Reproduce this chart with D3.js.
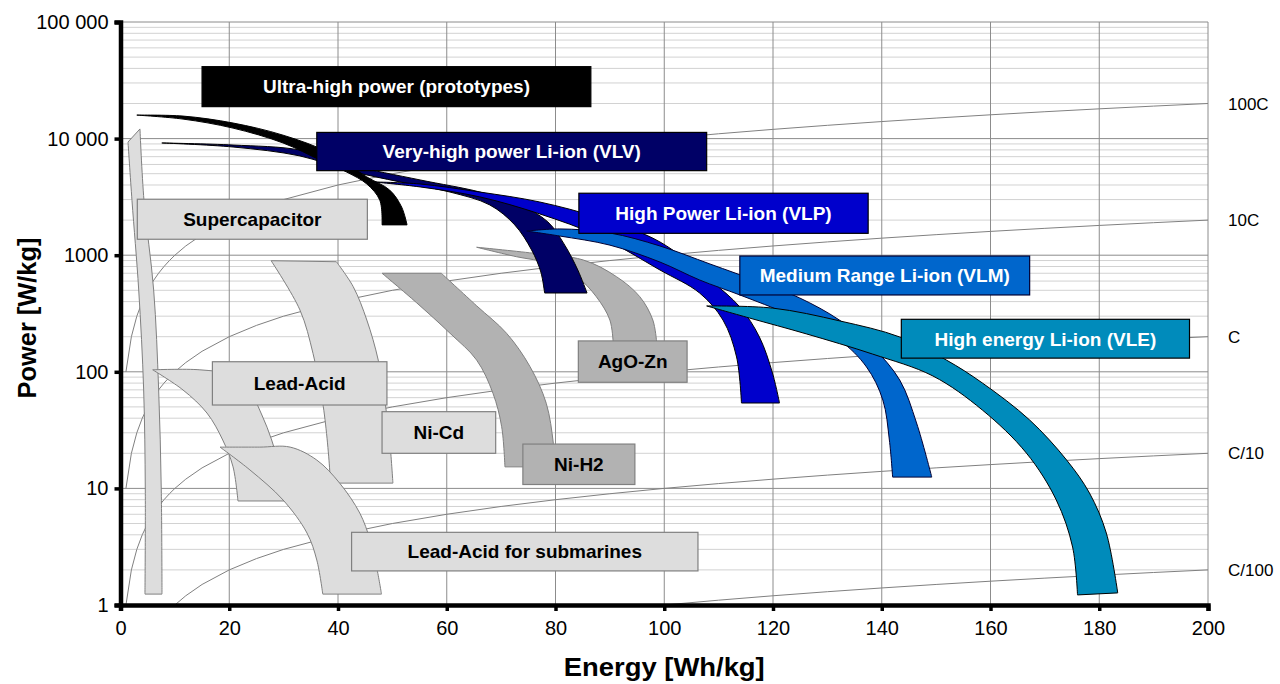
<!DOCTYPE html>
<html><head><meta charset="utf-8">
<script src="https://cdn.jsdelivr.net/npm/d3@7"></script>
<style>
body{margin:0;background:#fff;}
svg{display:block;font-family:"Liberation Sans",Arial,sans-serif;}
</style>
</head><body>
<svg id="chart" width="1280" height="684"></svg>
<script>
// ---------------- DATA ----------------
const energyTicks = [0,20,40,60,80,100,120,140,160,180,200];
const powerTicks = [1,10,100,1000,10000,100000];
const powerTickLabels = ["1","10","100","1000","10 000","100 000"];

// discharge-rate reference lines (Power = rate x Energy)
const cRates = [100,10,1,0.1,0.01];
const cRateLabels = ["100C","10C","C","C/10","C/100"];
const rateEnergies = [1,2,3,4,5,6,7,8,9,10,12,15,20,25,30,40,50,60,70,80,90,100,110,120,130,140,150,160,170,180,190,200];

// technology regions: [energy Wh/kg, power W/kg] along two edges
const ultraUpper = [[3.0,15900],[11.5,15600],[20.7,13600],[29.9,10700],[38.5,7530],[45.3,4690],[49.5,3620],[51.7,2590],[52.7,1820]];
const ultraLower = [[3.0,15900],[11.5,14700],[20.7,12300],[29.9,9170],[36.7,6550],[41.6,5160],[45.3,4080],[47.7,2950],[48.1,1820]];

const vlvUpper = [[7.6,9170],[20.7,8810],[33.0,7980],[42.2,5940],[55.1,4420],[66.1,3480],[73.4,2700],[78.6,1930],[81.7,1220],[84.1,747],[85.8,474]];
const vlvLower = [[7.6,9170],[20.7,8470],[33.0,7100],[42.2,5280],[51.4,4250],[60.6,3480],[67.9,2700],[72.5,1820],[75.6,1110],[77.3,718],[78.0,474]];

const vlpUpper = [[46.4,4250],[55.1,4080],[66.1,3480],[77.1,2860],[88.1,2080],[99.2,1300],[108.4,613],[113.9,360],[117.5,199],[119.9,97.7],[121.2,54.0]];
const vlpLower = [[46.4,4250],[55.1,3850],[66.1,3160],[77.1,2260],[88.1,1450],[99.2,747],[106.5,474],[110.8,278],[113.3,134],[114.2,54.0]];

const vlmUpper = [[74.7,1610],[80.8,1680],[90.0,1550],[99.2,1200],[108.4,841],[117.5,589],[124.9,430],[132.2,278],[138.3,163],[143.3,85.1],[146.4,36.4],[149.2,12.5]];
const vlmLower = [[74.7,1610],[80.8,1460],[90.0,1220],[99.2,874],[106.5,613],[113.9,456],[123.1,307],[132.2,187],[137.2,110],[140.2,57.3],[141.4,26.0],[142.0,12.5]];

const vleUpper = [[107.8,367],[119.9,352],[132.3,273],[143.3,199],[151.9,126],[158.5,80.2],[167.2,38.6],[174.0,17.5],[178.2,9.13],[181.3,4.14],[183.4,1.27]];
const vleLower = [[107.8,367],[115.7,289],[126.2,211],[138.3,142],[149.4,92.1],[158.5,47.0],[166.6,20.1],[172.1,7.95],[175.1,3.14],[176.0,1.22]];

const superLeft = [[1.38,9350],[2.11,2950],[3.35,503],[4.26,69.8],[4.56,9.69],[4.50,1.24]];
const superRight = [[3.58,12100],[4.32,2950],[6.10,503],[7.02,69.8],[7.50,9.69],[7.63,1.24]];

const leadUpper = [[5.92,104],[14.6,104],[20.1,93.9],[23.8,67.1],[26.0,42.6],[27.8,26.0],[29.3,14.4],[30.2,7.80]];
const leadLower = [[5.92,104],[11.5,69.8],[15.9,44.3],[18.8,26.0],[20.7,15.3],[21.6,7.80]];

const subUpper = [[18.3,22.6],[25.6,22.6],[31.2,22.6],[36.1,17.5],[40.3,11.1],[44.0,6.15],[45.9,3.61],[47.2,2.00],[48.0,1.24]];
const subLower = [[18.3,22.6],[23.8,14.4],[29.9,7.95],[34.3,4.14],[36.1,2.43],[37.2,1.24]];

const nicdLeft = [[27.7,897],[33.0,339],[35.4,144],[37.3,50.2],[38.5,13.6],[38.5,11.1]];
const nicdRight = [[39.7,879],[42.8,537],[45.3,278],[47.4,126],[48.6,57.3],[49.5,26.0],[50.1,11.1]];

const nih2Left = [[48.1,700],[54.4,393],[60.6,214],[65.5,126],[68.5,65.4],[70.1,33.8],[70.7,15.3]];
const nih2Right = [[59.0,700],[65.5,368],[71.0,214],[75.3,111],[78.3,53.7],[79.6,24.4],[79.9,15.3]];

const agoUpper = [[65.5,1170],[75.9,1040],[85.1,910],[91.2,655],[95.5,441],[97.9,278],[98.6,180]];
const agoLower = [[65.5,1170],[72.8,971],[78.9,853],[83.9,655],[87.5,441],[90.0,278],[90.6,180]];

// ---------------- STYLES / LAYOUT ----------------
const regions = [
  {a: superLeft, b: superRight, fill:"#dddddd", stroke:"#808080"},
  {a: nicdLeft,  b: nicdRight,  fill:"#dddddd", stroke:"#808080"},
  {a: leadUpper, b: leadLower,  fill:"#dddddd", stroke:"#808080"},
  {a: subUpper,  b: subLower,   fill:"#dddddd", stroke:"#808080"},
  {a: nih2Left,  b: nih2Right,  fill:"#b2b2b2", stroke:"#808080"},
  {a: agoUpper,  b: agoLower,   fill:"#b2b2b2", stroke:"#808080"},
  {a: vlvUpper,  b: vlvLower,   fill:"#000066", stroke:"#000000"},
  {a: ultraUpper,b: ultraLower, fill:"#000000", stroke:"#000000"},
  {a: vlpUpper,  b: vlpLower,   fill:"#0000cc", stroke:"#000000"},
  {a: vlmUpper,  b: vlmLower,   fill:"#0066cc", stroke:"#000033"},
  {a: vleUpper,  b: vleLower,   fill:"#008bbb", stroke:"#000000"}
];

// label boxes: energy left/right, power top/bottom
const boxes = [
  {t:"Ultra-high power (prototypes)", e0:15.0, e1:86.5, p0:41400, p1:18800, fill:"#000000", stroke:"#000000", color:"#ffffff"},
  {t:"Very-high power Li-ion (VLV)", e0:36.1, e1:107.8, p0:11300, p1:5310, fill:"#000066", stroke:"#000000", color:"#ffffff"},
  {t:"High Power Li-ion (VLP)", e0:84.3, e1:137.5, p0:3400, p1:1540, fill:"#0000cc", stroke:"#000000", color:"#ffffff"},
  {t:"Medium Range Li-ion (VLM)", e0:113.9, e1:167.2, p0:984, p1:456, fill:"#0066cc", stroke:"#000033", color:"#ffffff"},
  {t:"High energy Li-ion (VLE)", e0:143.6, e1:196.6, p0:282, p1:131, fill:"#008bbb", stroke:"#000000", color:"#ffffff"},
  {t:"Supercapacitor", e0:3.09, e1:45.4, p0:3020, p1:1370, fill:"#dddddd", stroke:"#808080", color:"#000000"},
  {t:"Lead-Acid", e0:16.9, e1:49.0, p0:122, p1:51.9, fill:"#dddddd", stroke:"#808080", color:"#000000"},
  {t:"Ni-Cd", e0:48.1, e1:69.0, p0:45.5, p1:20.0, fill:"#dddddd", stroke:"#808080", color:"#000000"},
  {t:"Ni-H2", e0:74.0, e1:94.6, p0:24.0, p1:10.8, fill:"#b2b2b2", stroke:"#808080", color:"#000000"},
  {t:"AgO-Zn", e0:84.2, e1:104.2, p0:184, p1:81.3, fill:"#b2b2b2", stroke:"#808080", color:"#000000"},
  {t:"Lead-Acid for submarines", e0:42.5, e1:106.2, p0:4.20, p1:1.96, fill:"#dddddd", stroke:"#808080", color:"#000000"}
];

// ---------------- DRAW ----------------
const svg = d3.select("#chart");
const L = 120.5, R = 1208, T = 22, B = 605;
const x = d3.scaleLinear().domain([0,200]).range([L,R]);
const y = d3.scaleLog().domain([1,100000]).range([B,T]);

svg.append("defs").append("clipPath").attr("id","plotclip")
  .append("rect").attr("x",L).attr("y",T).attr("width",R-L).attr("height",B-T);

// horizontal grid
const allTicks = y.ticks();
svg.append("g").selectAll("line").data(allTicks.filter(v => !powerTicks.includes(v)))
  .join("line").attr("x1",L).attr("x2",R).attr("y1",d=>y(d)).attr("y2",d=>y(d))
  .attr("stroke","#d2d2d2").attr("stroke-width",1);
svg.append("g").selectAll("line").data(powerTicks)
  .join("line").attr("x1",L).attr("x2",R).attr("y1",d=>y(d)).attr("y2",d=>y(d))
  .attr("stroke","#8c8c8c").attr("stroke-width",1);
// vertical grid
svg.append("g").selectAll("line").data(energyTicks.filter(v=>v>0))
  .join("line").attr("x1",d=>x(d)).attr("x2",d=>x(d)).attr("y1",T).attr("y2",B)
  .attr("stroke","#8c8c8c").attr("stroke-width",1);

// rate lines
const rl = d3.line().x(d=>x(d[0])).y(d=>y(d[1]));
svg.append("g").attr("clip-path","url(#plotclip)").selectAll("path").data(cRates)
  .join("path").attr("d", r => rl(rateEnergies.map(e => [e, e*r])))
  .attr("fill","none").attr("stroke","#808080").attr("stroke-width",1);

// regions
const edge = d3.line().x(d=>x(d[0])).y(d=>y(d[1])).curve(d3.curveCatmullRom.alpha(0.5));
svg.append("g").selectAll("path").data(regions).join("path")
  .attr("d", r => edge(r.a) + edge(r.b.slice().reverse()).replace(/^M/,"L") + "Z")
  .attr("fill", r=>r.fill).attr("stroke", r=>r.stroke).attr("stroke-width",1)
  .attr("stroke-linejoin","miter");

// label boxes
const bg = svg.append("g").selectAll("g").data(boxes).join("g");
bg.append("rect").attr("x",d=>x(d.e0)).attr("y",d=>y(d.p0))
  .attr("width",d=>x(d.e1)-x(d.e0)).attr("height",d=>y(d.p1)-y(d.p0))
  .attr("fill",d=>d.fill).attr("stroke",d=>d.stroke).attr("stroke-width",1.2);
bg.append("text").attr("x",d=>(x(d.e0)+x(d.e1))/2).attr("y",d=>(y(d.p0)+y(d.p1))/2)
  .attr("dy","0.36em").attr("text-anchor","middle")
  .attr("font-size",19).attr("font-weight","bold").attr("fill",d=>d.color).text(d=>d.t);

// axes
const xAxis = d3.axisBottom(x).tickValues(energyTicks).tickSize(6).tickPadding(10).tickFormat(d3.format("d"));
const gx = svg.append("g").attr("transform",`translate(0,${B})`).call(xAxis);
gx.select(".domain").attr("stroke","#000").attr("stroke-width",4.5);
gx.selectAll(".tick line").attr("stroke","#000").attr("stroke-width",3.5);
gx.selectAll(".tick text").attr("font-size",20).attr("fill","#000").attr("font-family","Liberation Sans, Arial, sans-serif");

const yAxis = d3.axisLeft(y).tickValues(powerTicks).tickSize(6).tickPadding(6)
  .tickFormat((d,i)=>powerTickLabels[i]);
const gy = svg.append("g").attr("transform",`translate(${L},0)`).call(yAxis);
gy.select(".domain").attr("stroke","#000").attr("stroke-width",4.5);
gy.selectAll(".tick line").attr("stroke","#000").attr("stroke-width",3.5);
gy.selectAll(".tick text").attr("font-size",20).attr("fill","#000").attr("font-family","Liberation Sans, Arial, sans-serif");

// rate labels
svg.append("g").selectAll("text").data(cRates).join("text")
  .attr("x",1228).attr("y",r=>y(r*200)).attr("dy","0.36em")
  .attr("font-size",17).attr("fill","#000").text((r,i)=>cRateLabels[i]);

// axis titles
svg.append("text").attr("x",(L+R)/2).attr("y",667).attr("dy","0.35em")
  .attr("text-anchor","middle").attr("font-size",25).attr("font-weight","bold")
  .attr("textLength",201).attr("lengthAdjust","spacingAndGlyphs").text("Energy [Wh/kg]");
svg.append("text").attr("transform",`translate(27,${318}) rotate(-90)`).attr("dy","0.35em")
  .attr("text-anchor","middle").attr("font-size",25).attr("font-weight","bold")
  .attr("textLength",161).attr("lengthAdjust","spacingAndGlyphs").text("Power [W/kg]");
</script>
</body></html>
